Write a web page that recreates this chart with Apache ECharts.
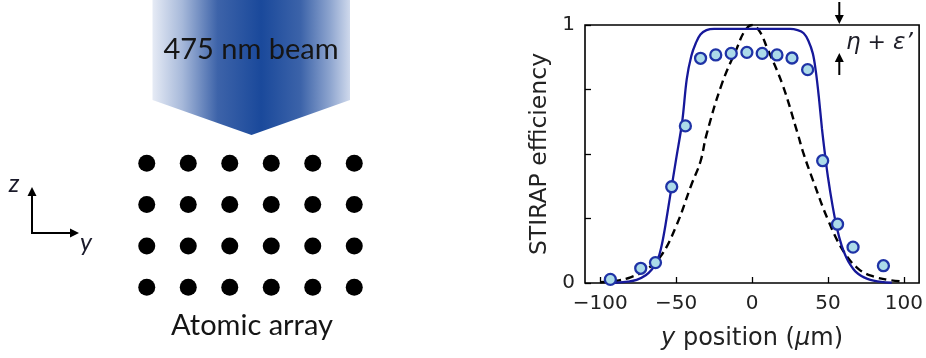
<!DOCTYPE html>
<html>
<head>
<meta charset="utf-8">
<script src="https://cdn.jsdelivr.net/npm/echarts@6.0.0/dist/echarts.min.js"></script>
<style>
html,body{margin:0;padding:0;background:#fff;}
#main{width:926px;height:358px;}
</style>
</head>
<body>
<div id="main"></div>
<script>
// ---- STIRAP efficiency data (y position in µm) ----
var measX = [-93.3, -73.3, -63.6, -52.9, -43.9, -33.9, -23.9, -13.7, -3.4, 6.7, 16.4, 26.3, 36.6, 46.5, 56.3, 66.5, 86.5];
var measY = [0.014, 0.057, 0.079, 0.373, 0.609, 0.871, 0.884, 0.890, 0.894, 0.890, 0.884, 0.872, 0.827, 0.474, 0.228, 0.139, 0.067];

var solidX = [-95, -90, -82, -76, -70, -66, -63, -61, -59, -57, -54, -50, -46, -43, -40, -37, -34, -30, -25, -15, 0, 15, 25, 30, 34, 37, 40, 42, 44, 46, 48, 50, 53, 56, 59, 62, 65, 68, 72, 76, 80, 85, 92];
var solidY = [0, 0.001, 0.005, 0.012, 0.03, 0.052, 0.08, 0.11, 0.16, 0.225, 0.335, 0.48, 0.625, 0.79, 0.88, 0.93, 0.963, 0.98, 0.985, 0.985, 0.985, 0.985, 0.985, 0.98, 0.968, 0.94, 0.89, 0.82, 0.72, 0.60, 0.50, 0.41, 0.30, 0.21, 0.145, 0.10, 0.068, 0.045, 0.027, 0.016, 0.009, 0.004, 0.001];

var dashX = [-100, -90, -80, -70, -60, -50, -40, -34, -30, -20, -10, -5, 0, 5, 10, 20, 30, 34, 40, 50, 60, 70, 80, 90, 100];
var dashY = [0.003, 0.008, 0.022, 0.05, 0.105, 0.22, 0.38, 0.47, 0.575, 0.77, 0.91, 0.975, 1.0, 0.975, 0.91, 0.77, 0.58, 0.5, 0.4, 0.245, 0.125, 0.055, 0.025, 0.012, 0.005];

var xTickValues = [-100, -50, 0, 50, 100];
var yTickValues = [0, 0.25, 0.5, 0.75, 1];
var yLabelValues = [0, 1];

// ---- atomic array (columns along y, rows along z) ----
var atomCols = [1, 2, 3, 4, 5, 6];
var atomRows = [1, 2, 3, 4];

function zip(a, b) { return a.map(function (v, i) { return [v, b[i]]; }); }
var atoms = [];
atomRows.forEach(function (r) { atomCols.forEach(function (c) { atoms.push([c, r]); }); });

var chart = echarts.init(document.getElementById('main'), null, { renderer: 'canvas' });

var mathFont = '"DejaVu Sans", sans-serif';
var calFont = 'Lato, "Open Sans", sans-serif';

var option = {
  backgroundColor: '#ffffff',
  animation: false,
  textStyle: { fontFamily: mathFont },
  grid: [
    { left: 585, top: 25, width: 340, height: 258, show: true, borderColor: '#000', borderWidth: 1.6, backgroundColor: 'transparent' },
    { left: 126, top: 142.6, width: 249, height: 165.3, show: false }
  ],
  xAxis: [
    {
      gridIndex: 0, type: 'value', min: -110, max: 110, position: 'bottom',
      splitLine: { show: false },
      axisLine: { show: false, onZero: false },
      axisTick: { show: true, inside: true, length: 6, lineStyle: { color: '#000', width: 1.3 }, customValues: xTickValues },
      axisLabel: {
        customValues: xTickValues, margin: 11, color: '#222', fontFamily: mathFont, fontSize: 20,
        formatter: function (v) { return String(v).replace('-', '\u2212'); }
      },
      name: '{i|y} position ({i|\u03bc}m)', nameLocation: 'middle', nameGap: 44,
      nameTextStyle: {
        color: '#222', fontFamily: mathFont, fontSize: 24,
        rich: { i: { fontStyle: 'italic', fontFamily: mathFont, fontSize: 24, color: '#222' } }
      }
    },
    { gridIndex: 1, type: 'value', min: 0.5, max: 6.5, show: false }
  ],
  yAxis: [
    {
      gridIndex: 0, type: 'value', min: 0, max: 1, position: 'left',
      splitLine: { show: false },
      axisLine: { show: false, onZero: false },
      axisTick: { show: true, inside: true, length: 6, lineStyle: { color: '#000', width: 1.3 }, customValues: yTickValues },
      axisLabel: { customValues: yLabelValues, margin: 10, color: '#222', fontFamily: mathFont, fontSize: 20 },
      name: 'STIRAP efficiency', nameLocation: 'middle', nameGap: 33, nameRotate: 90,
      nameTextStyle: { color: '#222', fontFamily: mathFont, fontSize: 23.5 }
    },
    { gridIndex: 1, type: 'value', min: 0.5, max: 4.5, show: false }
  ],
  series: [
    {
      type: 'line', xAxisIndex: 0, yAxisIndex: 0, data: zip(dashX, dashY),
      smooth: 0.4, showSymbol: false, z: 2,
      lineStyle: { color: '#000', width: 2.4, type: [8, 5] }
    },
    {
      type: 'line', xAxisIndex: 0, yAxisIndex: 0, data: zip(solidX, solidY),
      smooth: 0.35, showSymbol: false, z: 3,
      lineStyle: { color: '#16189a', width: 2.3 }
    },
    {
      type: 'scatter', xAxisIndex: 0, yAxisIndex: 0, data: zip(measX, measY),
      symbol: 'circle', symbolSize: 11, z: 4,
      itemStyle: { color: '#acdbe9', borderColor: '#1f33a6', borderWidth: 2.3, opacity: 1 }
    },
    {
      type: 'scatter', xAxisIndex: 1, yAxisIndex: 1, data: atoms,
      symbol: 'circle', symbolSize: 17, z: 2,
      itemStyle: { color: '#000', opacity: 1 }
    }
  ],
  graphic: [
    // beam
    {
      type: 'polygon', z: 1,
      shape: { points: [[152.5, 0], [350, 0], [350, 100], [251.5, 135], [152.5, 100]] },
      style: {
        fill: new echarts.graphic.LinearGradient(0, 0, 1, 0, [
          { offset: 0, color: '#e6ebf5' },
          { offset: 0.15, color: '#a7b9da' },
          { offset: 0.33, color: '#3d63a9' },
          { offset: 0.55, color: '#1a499b' },
          { offset: 0.75, color: '#3c63a9' },
          { offset: 0.9, color: '#8ea5cf' },
          { offset: 1, color: '#cfd9ec' }
        ])
      }
    },
    {
      type: 'text', z: 5,
      x: 251, y: 50,
      style: { text: '475 nm beam', fontFamily: calFont, fontSize: 29, fill: '#151515', align: 'center', verticalAlign: 'middle' }
    },
    {
      type: 'text', z: 5,
      x: 252, y: 326,
      style: { text: 'Atomic array', fontFamily: calFont, fontSize: 29, fill: '#151515', align: 'center', verticalAlign: 'middle' }
    },
    // coordinate axes
    { type: 'polyline', z: 5, shape: { points: [[32, 194], [32, 233], [72, 233]] }, style: { stroke: '#000', lineWidth: 2, fill: null } },
    { type: 'polygon', z: 5, shape: { points: [[32, 187], [27.5, 196], [36.5, 196]] }, style: { fill: '#000' } },
    { type: 'polygon', z: 5, shape: { points: [[79, 233], [70, 228.5], [70, 237.5]] }, style: { fill: '#000' } },
    { type: 'text', z: 5, x: 14, y: 184, style: { text: 'z', fontFamily: calFont, fontStyle: 'italic', fontSize: 25, fill: '#1a1a2a', align: 'center', verticalAlign: 'middle' } },
    { type: 'text', z: 5, x: 86, y: 243, style: { text: 'y', fontFamily: calFont, fontStyle: 'italic', fontSize: 25, fill: '#1a1a2a', align: 'center', verticalAlign: 'middle' } },
    // eta + epsilon' annotation
    { type: 'line', z: 5, shape: { x1: 839.3, y1: 2, x2: 839.3, y2: 16 }, style: { stroke: '#000', lineWidth: 2 } },
    { type: 'polygon', z: 5, shape: { points: [[839.3, 24], [834.8, 15], [843.8, 15]] }, style: { fill: '#000' } },
    { type: 'line', z: 5, shape: { x1: 839.3, y1: 61, x2: 839.3, y2: 75 }, style: { stroke: '#000', lineWidth: 2 } },
    { type: 'polygon', z: 5, shape: { points: [[839.3, 53], [834.8, 62], [843.8, 62]] }, style: { fill: '#000' } },
    {
      type: 'text', z: 5, x: 846, y: 43,
      style: {
        text: '{i|\u03b7} + {i|\u03b5\u2019}', align: 'left', verticalAlign: 'middle',
        fontFamily: mathFont, fontSize: 22, fill: '#1e1e28',
        rich: { i: { fontStyle: 'italic', fontFamily: mathFont, fontSize: 23, fill: '#1e1e28' } }
      }
    }
  ]
};
chart.setOption(option);
</script>
</body>
</html>
